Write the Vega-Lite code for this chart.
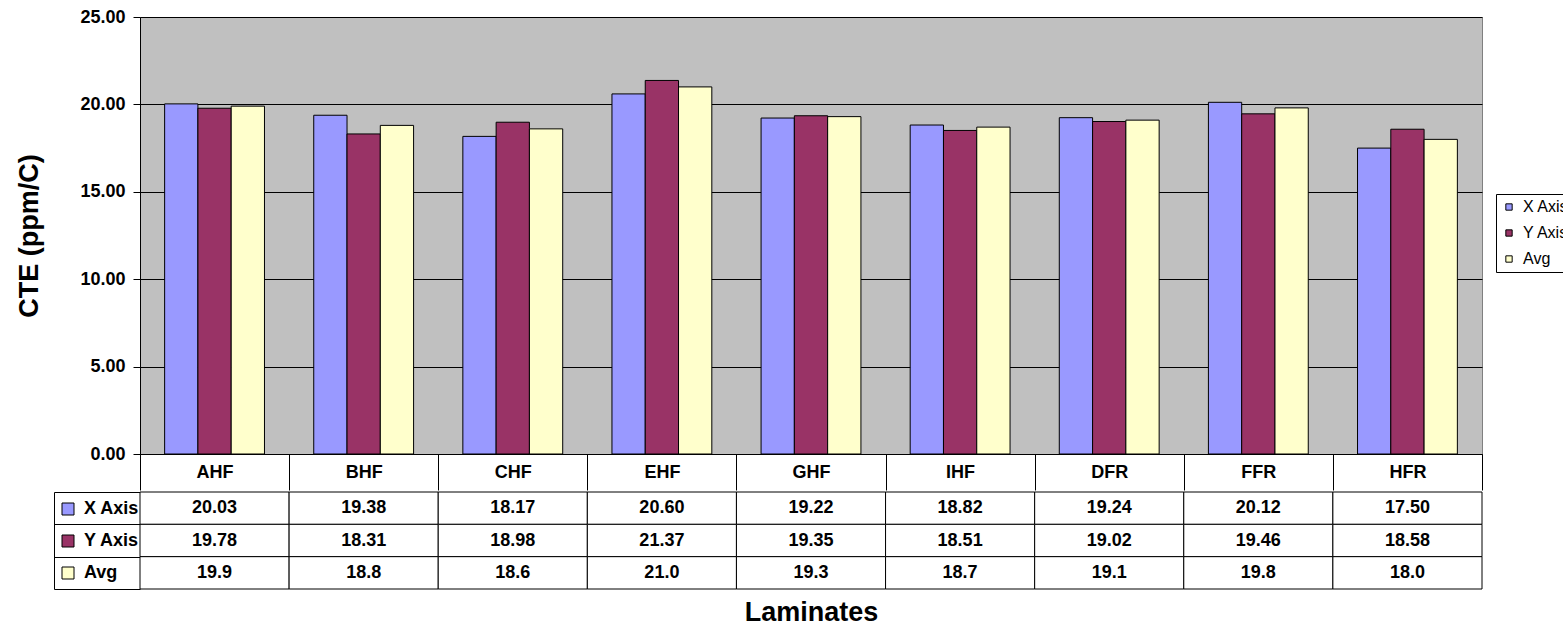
{
  "$schema": "https://vega.github.io/schema/vega-lite/v6.json",
  "padding": {"left": 15, "top": 7, "right": 0, "bottom": 0},
  "background": "white",
  "config": {"font": "Liberation Sans"},
  "data": {
    "values": [
      {"laminate": "AHF", "series": "X Axis", "value": 20.03},
      {"laminate": "BHF", "series": "X Axis", "value": 19.38},
      {"laminate": "CHF", "series": "X Axis", "value": 18.17},
      {"laminate": "EHF", "series": "X Axis", "value": 20.60},
      {"laminate": "GHF", "series": "X Axis", "value": 19.22},
      {"laminate": "IHF", "series": "X Axis", "value": 18.82},
      {"laminate": "DFR", "series": "X Axis", "value": 19.24},
      {"laminate": "FFR", "series": "X Axis", "value": 20.12},
      {"laminate": "HFR", "series": "X Axis", "value": 17.50},
      {"laminate": "AHF", "series": "Y Axis", "value": 19.78},
      {"laminate": "BHF", "series": "Y Axis", "value": 18.31},
      {"laminate": "CHF", "series": "Y Axis", "value": 18.98},
      {"laminate": "EHF", "series": "Y Axis", "value": 21.37},
      {"laminate": "GHF", "series": "Y Axis", "value": 19.35},
      {"laminate": "IHF", "series": "Y Axis", "value": 18.51},
      {"laminate": "DFR", "series": "Y Axis", "value": 19.02},
      {"laminate": "FFR", "series": "Y Axis", "value": 19.46},
      {"laminate": "HFR", "series": "Y Axis", "value": 18.58},
      {"laminate": "AHF", "series": "Avg", "value": 19.9},
      {"laminate": "BHF", "series": "Avg", "value": 18.8},
      {"laminate": "CHF", "series": "Avg", "value": 18.6},
      {"laminate": "EHF", "series": "Avg", "value": 21.0},
      {"laminate": "GHF", "series": "Avg", "value": 19.3},
      {"laminate": "IHF", "series": "Avg", "value": 18.7},
      {"laminate": "DFR", "series": "Avg", "value": 19.1},
      {"laminate": "FFR", "series": "Avg", "value": 19.8},
      {"laminate": "HFR", "series": "Avg", "value": 18.0}
    ]
  },
  "spacing": 0,
  "resolve": {"scale": {"fill": "independent"}, "legend": {"fill": "independent"}},
  "vconcat": [
    {
      "width": 1342,
      "height": 437,
      "view": {"fill": "#C0C0C0", "stroke": "#808080"},
      "mark": {"type": "bar", "stroke": "black", "strokeWidth": 1, "opacity": 1},
      "encoding": {
        "x": {
          "field": "laminate", "type": "nominal", "sort": null,
          "scale": {"paddingInner": 0, "paddingOuter": 0},
          "axis": {
            "title": null, "labelAngle": 0, "labelFontSize": 18, "labelFontWeight": "bold", "labelColor": "black",
            "tickBand": "extent", "tickSize": 36, "tickColor": "black", "domainColor": "black",
            "labelPadding": -18, "labelBaseline": "middle"
          }
        },
        "xOffset": {
          "field": "series", "type": "nominal", "sort": null,
          "scale": {"domain": ["X Axis", "Y Axis", "Avg"], "paddingOuter": 0.74, "paddingInner": 0}
        },
        "y": {
          "field": "value", "type": "quantitative",
          "scale": {"domain": [0, 25], "nice": false},
          "axis": {
            "title": "CTE (ppm/C)", "values": [0, 5, 10, 15, 20, 25], "format": ".2f",
            "labelFontSize": 18, "labelFontWeight": "bold", "labelColor": "black",
            "tickSize": 7, "tickColor": "black", "domainColor": "black", "labelPadding": 8,
            "grid": true, "gridColor": "black", "gridOpacity": 1,
            "titleFontSize": 27, "titleFontWeight": "bold", "titlePadding": 36, "titleColor": "black"
          }
        },
        "fill": {
          "field": "series", "type": "nominal",
          "scale": {"domain": ["X Axis", "Y Axis", "Avg"], "range": ["#9999FF", "#993366", "#FFFFCC"]},
          "legend": {
            "title": null, "orient": "none", "legendX": 1356, "legendY": 177,
            "strokeColor": "black", "fillColor": "white", "padding": 5,
            "symbolType": "square", "symbolSize": 40, "symbolStrokeColor": "black", "symbolStrokeWidth": 1,
            "labelFontSize": 16, "labelColor": "black", "rowPadding": 10, "labelOffset": 6
          }
        }
      }
    },
    {
      "width": 1342,
      "height": 97,
      "view": {"stroke": null},
      "encoding": {
        "x": {
          "field": "laminate", "type": "nominal", "sort": null,
          "scale": {"paddingInner": 0, "paddingOuter": 0},
          "axis": {
            "title": "Laminates", "labels": false, "ticks": false, "domain": false,
            "titleFontSize": 27, "titleFontWeight": "bold", "titlePadding": 10, "titleColor": "black"
          }
        },
        "y": {
          "field": "series", "type": "nominal", "sort": null,
          "scale": {"domain": ["X Axis", "Y Axis", "Avg"], "paddingInner": 0, "paddingOuter": 0},
          "axis": {
            "title": null, "labels": false, "offset": 86, "tickBand": "extent", "tickSize": -86,
            "tickColor": "black", "domainColor": "black"
          }
        }
      },
      "layer": [
        {
          "mark": {"type": "point", "shape": "square", "filled": true, "size": 4, "opacity": 1, "stroke": "black", "strokeWidth": 1},
          "encoding": {
            "fill": {
              "field": "series", "type": "nominal",
              "scale": {"domain": ["X Axis", "Y Axis", "Avg"], "range": ["#9999FF", "#993366", "#FFFFCC"]},
              "legend": {
                "title": null, "orient": "none", "legendX": -81, "legendY": 8, "padding": 0,
                "symbolType": "square", "symbolSize": 144, "symbolStrokeColor": "black", "symbolStrokeWidth": 1,
                "labelFontSize": 18, "labelFontWeight": "bold", "labelColor": "black", "rowPadding": 14, "labelOffset": 7
              }
            }
          }
        },
        {"mark": {"type": "rect", "fill": "white", "stroke": "black", "strokeWidth": 1}},
        {
          "transform": [{"filter": "datum.series !== 'Avg'"}],
          "mark": {"type": "text", "fontSize": 18, "fontWeight": "bold", "color": "black"},
          "encoding": {"text": {"field": "value", "type": "quantitative", "format": ".2f"}}
        },
        {
          "transform": [{"filter": "datum.series === 'Avg'"}],
          "mark": {"type": "text", "fontSize": 18, "fontWeight": "bold", "color": "black"},
          "encoding": {"text": {"field": "value", "type": "quantitative", "format": ".1f"}}
        }
      ]
    }
  ]
}
